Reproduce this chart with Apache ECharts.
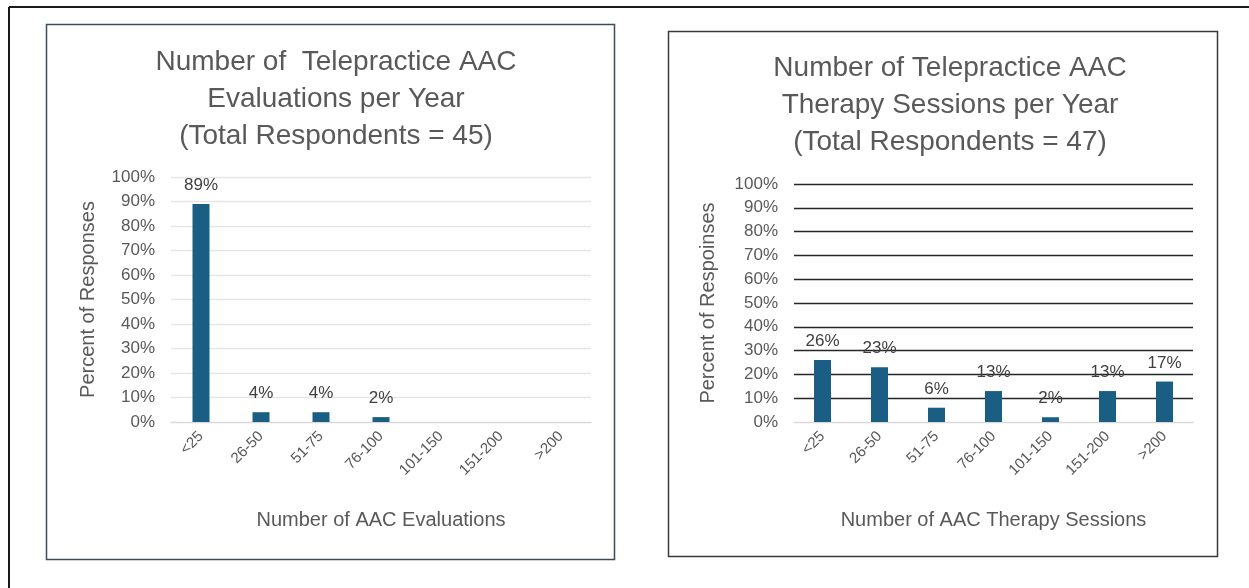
<!DOCTYPE html>
<html>
<head>
<meta charset="utf-8">
<script src="https://cdn.jsdelivr.net/npm/echarts@6/dist/echarts.min.js"></script>
<style>
  html, body { margin: 0; padding: 0; background: #ffffff; }
  #chart { width: 1249px; height: 588px; }
</style>
</head>
<body>
<div id="chart"></div>
<script>
// Shared frequency bins
const categories = ['<25', '26-50', '51-75', '76-100', '101-150', '151-200', '>200'];

// Percent of respondents per bin
const evaluationValues = [89, 4, 4, 2, 0, 0, 0];
const therapyValues = [26, 23, 6, 13, 2, 13, 17];

// Percent tick values on the y axes
const percentTicks = [0, 10, 20, 30, 40, 50, 60, 70, 80, 90, 100];

const FONT = '"Liberation Sans", Arial, sans-serif';
const BAR_COLOR = '#1b5e84';
const TEXT_GRAY = '#595959';

const chart = echarts.init(document.getElementById('chart'), null, { renderer: 'canvas' });

function yAxisFor(gridIndex, name, gap, gridColor) {
  return {
    type: 'value',
    gridIndex: gridIndex,
    min: percentTicks[0],
    max: percentTicks[percentTicks.length - 1],
    interval: percentTicks[1] - percentTicks[0],
    name: name,
    nameLocation: 'middle',
    nameRotate: 90,
    nameGap: gap,
    nameTextStyle: { color: TEXT_GRAY, fontFamily: FONT, fontSize: 20 },
    axisLine: { show: false },
    axisTick: { show: false },
    axisLabel: { color: TEXT_GRAY, fontFamily: FONT, fontSize: 17, formatter: '{value}%', margin: 16 },
    splitLine: { show: true, showMinLine: false, lineStyle: { color: gridColor, width: 1.3 } }
  };
}

function xAxisFor(gridIndex, name) {
  return {
    type: 'category',
    gridIndex: gridIndex,
    data: categories,
    name: name,
    nameLocation: 'middle',
    nameGap: 88,
    nameTextStyle: { color: TEXT_GRAY, fontFamily: FONT, fontSize: 20 },
    axisLine: { show: true, lineStyle: { color: '#d9d9d9', width: 1.3 } },
    axisTick: { show: false },
    axisLabel: { color: TEXT_GRAY, fontFamily: FONT, fontSize: 15, rotate: 45, margin: 12, interval: 0 }
  };
}

function barSeries(index, values) {
  return {
    type: 'bar',
    xAxisIndex: index,
    yAxisIndex: index,
    data: values.map(v => v === 0 ? null : v),
    barWidth: 17,
    itemStyle: { color: BAR_COLOR },
    label: {
      show: true,
      position: 'top',
      distance: 10,
      color: '#404040',
      fontFamily: FONT,
      fontSize: 17,
      formatter: p => p.value + '%'
    }
  };
}

const titleStyle = { color: TEXT_GRAY, fontFamily: FONT, fontSize: 28, fontWeight: 'normal', lineHeight: 37 };

chart.setOption({
  animation: false,
  backgroundColor: '#ffffff',
  graphic: [
    // outer frame (top and left edges)
    { type: 'line', shape: { x1: 9, y1: 7, x2: 1249, y2: 7 }, style: { stroke: '#1a1a1a', lineWidth: 2 } },
    { type: 'line', shape: { x1: 9, y1: 7, x2: 9, y2: 588 }, style: { stroke: '#1a1a1a', lineWidth: 2 } },
    // panel borders
    { type: 'rect', shape: { x: 46.5, y: 24.5, width: 568, height: 535 }, style: { fill: 'none', stroke: '#3e4c57', lineWidth: 1.5 } },
    { type: 'rect', shape: { x: 668.5, y: 31.5, width: 549, height: 525 }, style: { fill: 'none', stroke: '#3a3a3a', lineWidth: 1.5 } }
  ],
  title: [
    {
      text: 'Number of  Telepractice AAC\nEvaluations per Year\n(Total Respondents = 45)',
      left: 331, top: 39, textAlign: 'center',
      textStyle: titleStyle
    },
    {
      text: 'Number of Telepractice AAC\nTherapy Sessions per Year\n(Total Respondents = 47)',
      left: 945, top: 45, textAlign: 'center',
      textStyle: titleStyle
    }
  ],
  grid: [
    { left: 171, right: 658, top: 177, bottom: 166, containLabel: false },
    { left: 794, right: 56, top: 184, bottom: 166, containLabel: false }
  ],
  xAxis: [
    xAxisFor(0, 'Number of AAC Evaluations'),
    xAxisFor(1, 'Number of AAC Therapy Sessions')
  ],
  yAxis: [
    yAxisFor(0, 'Percent of Responses', 73, '#e6e6e6'),
    yAxisFor(1, 'Percent of Respoinses', 76, '#262626')
  ],
  series: [
    barSeries(0, evaluationValues),
    barSeries(1, therapyValues)
  ]
});
</script>
</body>
</html>
